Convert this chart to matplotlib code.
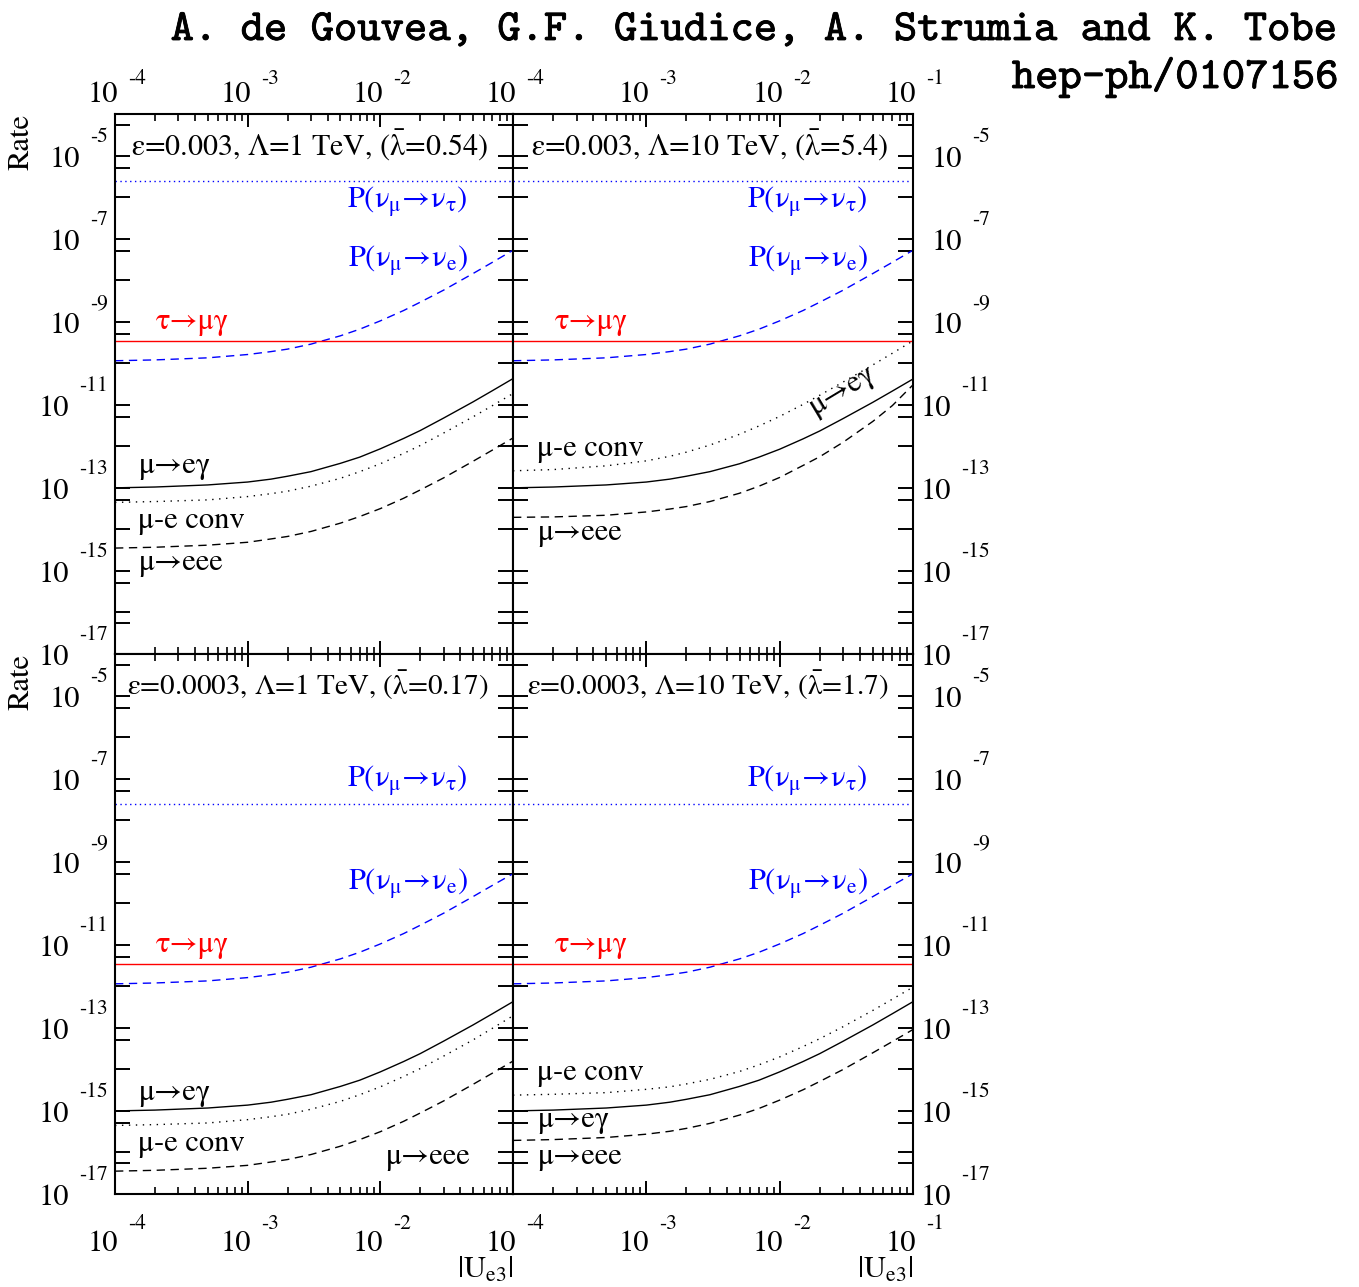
import numpy as np
import matplotlib
matplotlib.use('Agg')
import matplotlib.pyplot as plt
import matplotlib.patheffects as pe
from matplotlib.ticker import FixedLocator, LogLocator, NullFormatter

plt.rcParams['font.family'] = 'STIXGeneral'
plt.rcParams['mathtext.fontset'] = 'stix'

#------------------------------- Data ---------------------------------#

# |Ue3| sampling points
U = [1e-4, 2e-4, 5e-4, 1e-3, 1.5e-3, 2e-3, 3e-3, 5e-3, 7e-3,
     1e-2, 1.5e-2, 2e-2, 3e-2, 5e-2, 7e-2, 1e-1]

# log10(rate), eps=0.003, Lambda=1 TeV
TL_NUE = [-9.94, -9.92, -9.87, -9.79, -9.72, -9.66, -9.54, -9.34, -9.18, -8.98, -8.73, -8.53, -8.24, -7.84, -7.57, -7.28]
TL_MEG = [-13.00, -12.98, -12.93, -12.86, -12.79, -12.72, -12.61, -12.41, -12.26, -12.06, -11.81, -11.62, -11.32, -10.93, -10.66, -10.37]
TL_MEC = [-13.35, -13.33, -13.29, -13.21, -13.14, -13.08, -12.96, -12.77, -12.61, -12.42, -12.17, -11.98, -11.68, -11.29, -11.02, -10.73]
TL_M3E = [-14.45, -14.43, -14.38, -14.31, -14.23, -14.17, -14.05, -13.85, -13.69, -13.50, -13.25, -13.05, -12.76, -12.36, -12.09, -11.80]

# eps=0.003, Lambda=10 TeV
TR_NUE = [-9.94, -9.92, -9.87, -9.79, -9.72, -9.66, -9.54, -9.34, -9.18, -8.98, -8.73, -8.53, -8.24, -7.84, -7.57, -7.28]
TR_MEG = [-13.00, -12.98, -12.93, -12.86, -12.79, -12.72, -12.61, -12.42, -12.26, -12.07, -11.82, -11.63, -11.33, -10.94, -10.67, -10.38]
TR_MEC = [-12.59, -12.56, -12.47, -12.35, -12.24, -12.14, -11.97, -11.71, -11.51, -11.28, -10.99, -10.77, -10.45, -10.04, -9.76, -9.46]
TR_M3E = [-13.71, -13.70, -13.66, -13.58, -13.51, -13.45, -13.33, -13.13, -12.96, -12.75, -12.46, -12.25, -11.90, -11.40, -11.02, -10.52]

# eps=0.0003, Lambda=1 TeV
BL_NUE = [-11.94, -11.92, -11.87, -11.79, -11.72, -11.66, -11.54, -11.34, -11.18, -10.98, -10.73, -10.53, -10.24, -9.84, -9.57, -9.29]
BL_MEG = [-15.00, -14.98, -14.93, -14.86, -14.79, -14.72, -14.61, -14.41, -14.26, -14.06, -13.81, -13.62, -13.32, -12.93, -12.66, -12.37]
BL_MEC = [-15.35, -15.33, -15.29, -15.21, -15.14, -15.08, -14.96, -14.77, -14.61, -14.42, -14.17, -13.98, -13.68, -13.29, -13.01, -12.71]
BL_M3E = [-16.45, -16.43, -16.38, -16.31, -16.23, -16.17, -16.05, -15.85, -15.69, -15.50, -15.25, -15.05, -14.76, -14.36, -14.09, -13.80]

# eps=0.0003, Lambda=10 TeV
BR_NUE = [-11.94, -11.92, -11.87, -11.79, -11.72, -11.66, -11.54, -11.34, -11.18, -10.98, -10.73, -10.53, -10.24, -9.84, -9.57, -9.29]
BR_MEG = [-15.00, -14.98, -14.93, -14.86, -14.79, -14.72, -14.61, -14.41, -14.26, -14.06, -13.81, -13.62, -13.32, -12.93, -12.66, -12.37]
BR_MEC = [-14.62, -14.60, -14.56, -14.48, -14.42, -14.35, -14.24, -14.05, -13.89, -13.70, -13.45, -13.26, -12.97, -12.58, -12.31, -12.02]
BR_M3E = [-15.71, -15.69, -15.64, -15.56, -15.49, -15.42, -15.30, -15.10, -14.94, -14.74, -14.49, -14.29, -14.00, -13.60, -13.33, -13.04]

# flat lines: P(numu->nutau) and tau->mu gamma
NUT = {'TL': -5.61, 'TR': -5.61, 'BL': -7.62, 'BR': -7.62}
TAU = {'TL': -9.46, 'TR': -9.46, 'BL': -11.46, 'BR': -11.46}

TITLES = {
    'TL': r'ε=0.003, Λ=1 TeV, ($\bar{\mathrm{\lambda}}$=0.54)',
    'TR': r'ε=0.003, Λ=10 TeV, ($\bar{\mathrm{\lambda}}$=5.4)',
    'BL': r'ε=0.0003, Λ=1 TeV, ($\bar{\mathrm{\lambda}}$=0.17)',
    'BR': r'ε=0.0003, Λ=10 TeV, ($\bar{\mathrm{\lambda}}$=1.7)',
}

X_EXP = [-4, -3, -2, -1]
Y_EXP = [-5, -7, -9, -11, -13, -15, -17]
Y_MINOR = [5.5e-5, 5.05e-6, 5.05e-8, 5.05e-10, 5.05e-12, 5.05e-14, 5.05e-16, 5.5e-17]

FS = 22
FS_EXP = 15.5

P_NUT_LABEL = r'P($\mathrm{\nu_{\mu}\!\rightarrow\!\nu_{\tau}}$)'
P_NUE_LABEL = r'P($\mathrm{\nu_{\mu}\!\rightarrow\!\nu_{e}}$)'

#------------------------------ Figure --------------------------------#

W, H = 1359, 1287
fig = plt.figure(figsize=(W / 100, H / 100), dpi=100)

xl, wl = 115 / W, 398 / W
xr, wr = 513 / W, 400 / W
yt, yb, hh = 1 - 654 / H, 1 - 1194 / H, 540 / H

axes = {
    'TL': fig.add_axes([xl, yt, wl, hh]),
    'TR': fig.add_axes([xr, yt, wr, hh]),
    'BL': fig.add_axes([xl, yb, wl, hh]),
    'BR': fig.add_axes([xr, yb, wr, hh]),
}
curves = {
    'TL': (TL_NUE, TL_MEG, TL_MEC, TL_M3E),
    'TR': (TR_NUE, TR_MEG, TR_MEC, TR_M3E),
    'BL': (BL_NUE, BL_MEG, BL_MEC, BL_M3E),
    'BR': (BR_NUE, BR_MEG, BR_MEC, BR_M3E),
}


def x_labels(ax, exps, top):
    yax = 1 if top else 0
    d10, dex = (12, 30) if top else (-57, -35)
    for e in exps:
        ax.annotate('10', xy=(10.0**e, yax), xycoords=('data', 'axes fraction'),
                    xytext=(3, d10), textcoords='offset pixels',
                    ha='right', va='baseline', fontsize=FS, annotation_clip=False)
        ax.annotate(str(e), xy=(10.0**e, yax), xycoords=('data', 'axes fraction'),
                    xytext=(13, dex), textcoords='offset pixels',
                    ha='left', va='baseline', fontsize=FS_EXP, annotation_clip=False)


def y_labels(ax, left):
    xax = 0 if left else 1
    xoff = -7 if left else 77
    for e in Y_EXP:
        ex = ax.annotate(str(e), xy=(xax, 10.0**e), xycoords=('axes fraction', 'data'),
                         xytext=(xoff, 13.5), textcoords='offset pixels',
                         ha='right', va='baseline', fontsize=FS_EXP, annotation_clip=False)
        ax.annotate('10', xy=(0, 10.0**e), xycoords=(ex, 'data'),
                    xytext=(-10, -11), textcoords='offset pixels',
                    ha='right', va='baseline', fontsize=FS, annotation_clip=False)


for key, ax in axes.items():
    nue, meg, mec, m3e = curves[key]
    ax.set_xscale('log')
    ax.set_yscale('log')

    ax.plot(U, 10.0**np.array(meg), color='black', lw=1.0)
    ax.plot(U, 10.0**np.array(mec), color='black', lw=1.0, linestyle=(0, (1, 4)))
    ax.plot(U, 10.0**np.array(m3e), color='black', lw=1.0, linestyle=(0, (6, 4)))
    ax.plot(U, 10.0**np.array(nue), color='blue', lw=1.0, linestyle=(0, (6, 4)))
    ax.axhline(10.0**NUT[key], color='blue', lw=1.0, linestyle=(0, (1, 2.5)))
    ax.axhline(10.0**TAU[key], color='red', lw=1.0)

    ax.set_xlim(1e-4, 1e-1)
    ax.set_ylim(1e-17, 1e-4)

    # ticks
    ax.xaxis.set_major_locator(LogLocator(base=10, numticks=10))
    ax.xaxis.set_minor_locator(LogLocator(base=10, subs=np.arange(2, 10), numticks=10))
    ax.yaxis.set_major_locator(FixedLocator([10.0**e for e in range(-17, -3)]))
    ax.yaxis.set_minor_locator(FixedLocator(Y_MINOR))
    for axis in (ax.xaxis, ax.yaxis):
        axis.set_major_formatter(NullFormatter())
        axis.set_minor_formatter(NullFormatter())
    ax.tick_params(which='both', direction='in', top=True, right=True,
                   labelbottom=False, labelleft=False)
    ax.tick_params(axis='x', which='major', length=9.5, width=1.4)
    ax.tick_params(axis='x', which='minor', length=5, width=1.2)
    ax.tick_params(axis='y', which='major', length=10.8, width=1.4)
    ax.tick_params(axis='y', which='minor', length=10.8, width=1.4)
    for sp in ax.spines.values():
        sp.set_linewidth(1.5)

    left = key in ('TL', 'BL')
    top = key in ('TL', 'TR')

    # panel title
    ax.text(0.937, 0.942, TITLES[key], transform=ax.transAxes,
            ha='right', va='center', fontsize=21.6 if top else 21.0)

    y_labels(ax, left)
    if left:
        x_labels(ax, X_EXP[:-1], top)
        ax.annotate('Rate', xy=(0, 1), xycoords='axes fraction', xytext=(-93, 0),
                    textcoords='offset pixels', rotation=90, ha='center', va='top',
                    fontsize=FS)
    else:
        x_labels(ax, X_EXP, top)
    if not top:
        ax.annotate(r'$\mathrm{|U_{e3}|}$', xy=(1, 0), xycoords='axes fraction',
                    xytext=(0, -84), textcoords='offset pixels',
                    ha='right', va='baseline', fontsize=FS, annotation_clip=False)

#--------------------------- Curve labels ------------------------------#

def label(ax, x, y, s, color='black', ha='left', rot=0):
    ax.text(x, y, s, transform=ax.transAxes, color=color, ha=ha,
            va='baseline', fontsize=FS, rotation=rot, rotation_mode='anchor')

for key in ('TL', 'TR'):
    ax = axes[key]
    label(ax, 0.886, 0.826, P_NUT_LABEL, 'blue', 'right')
    label(ax, 0.886, 0.717, P_NUE_LABEL, 'blue', 'right')
    label(ax, 0.104, 0.602, 'τ→μγ', 'red')
for key in ('BL', 'BR'):
    ax = axes[key]
    label(ax, 0.886, 0.755, P_NUT_LABEL, 'blue', 'right')
    label(ax, 0.886, 0.563, P_NUE_LABEL, 'blue', 'right')
    label(ax, 0.104, 0.449, 'τ→μγ', 'red')

label(axes['TL'], 0.058, 0.335, 'μ→eγ')
label(axes['TL'], 0.058, 0.233, 'μ-e conv')
label(axes['TL'], 0.058, 0.156, 'μ→eee')

label(axes['TR'], 0.060, 0.367, 'μ-e conv')
label(axes['TR'], 0.060, 0.211, 'μ→eee')
label(axes['TR'], 0.755, 0.443, 'μ→eγ', rot=31)

label(axes['BL'], 0.058, 0.174, 'μ→eγ')
label(axes['BL'], 0.058, 0.080, 'μ-e conv')
label(axes['BL'], 0.892, 0.056, 'μ→eee', ha='right')

label(axes['BR'], 0.060, 0.212, 'μ-e conv')
label(axes['BR'], 0.060, 0.125, 'μ→eγ')
label(axes['BR'], 0.060, 0.056, 'μ→eee')

#------------------------------ Header --------------------------------#

stroke = [pe.withStroke(linewidth=0.6, foreground='black')]
fig.text(1338 / W, 1 - 40 / H, 'A. de Gouvea, G.F. Giudice, A. Strumia and K. Tobe',
         ha='right', va='baseline', family='cmtt10', fontsize=32.0, path_effects=stroke)
fig.text(1338 / W, 1 - 88 / H, 'hep-ph/0107156',
         ha='right', va='baseline', family='cmtt10', fontsize=32.0, path_effects=stroke)

fig.savefig('out.png', dpi=100)
